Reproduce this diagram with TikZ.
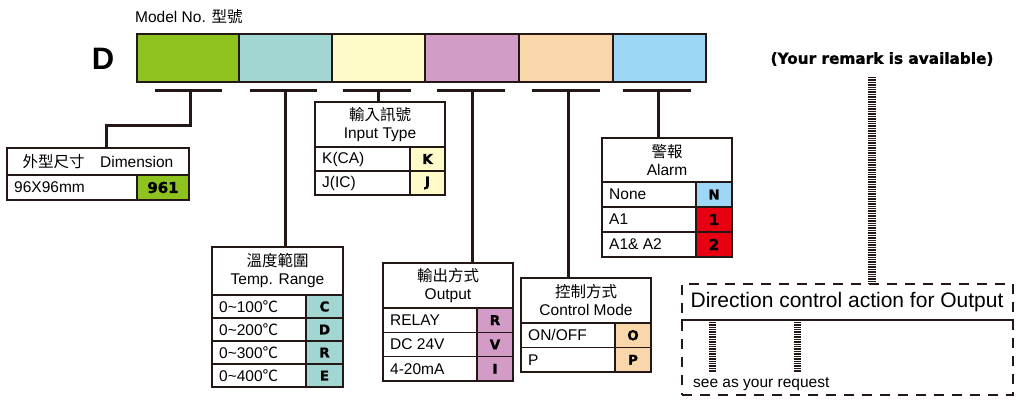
\documentclass[tikz,border=0pt]{standalone}
\usepackage{fontspec}
\setmainfont{Liberation Sans}
\newfontfamily\cjk{Noto Sans CJK TC}
\newfontfamily\heavy{DejaVu Sans}[FakeBold=1.2]
\usetikzlibrary{calc}
\definecolor{ink}{HTML}{231815}
\definecolor{cgreen}{HTML}{8DC21F}
\definecolor{cteal}{HTML}{A2D6D3}
\definecolor{cyellow}{HTML}{FFFBC8}
\definecolor{cpurple}{HTML}{D39CC7}
\definecolor{corange}{HTML}{F9D7AB}
\definecolor{cblue}{HTML}{9ED7F5}
\definecolor{cred}{HTML}{E60012}
\newcommand\txt{\fontsize{15.5}{18}\selectfont}
\newcommand\codefont{\heavy\bfseries\fontsize{13.5}{14}\selectfont}
\newcommand\numfont{\heavy\bfseries\fontsize{15}{16}\selectfont}
\tikzset{
  barcell/.style={draw=ink, line width=2.5pt, anchor=north west, minimum height=48pt, inner sep=0pt, outer sep=0pt},
  tbox/.style={draw=ink, line width=1.2pt, anchor=north west, inner sep=0pt, outer sep=0pt, align=center, font=\txt},
  lcell/.style={draw=ink, line width=1.2pt, anchor=north west, inner sep=0pt, outer sep=0pt},
  ccell/.style={draw=ink, line width=1.2pt, anchor=north west, inner sep=0pt, outer sep=0pt, font=\codefont},
  tbar/.style={draw=ink, line width=3pt},
  stripe/.style={draw=ink, line width=8pt, dash pattern=on 0.9pt off 0.8pt},
}
\newcommand\trow[9]{%
  \node[lcell, minimum width=#4pt, minimum height=#6pt] (#1) at (#2,#3) {};
  \node[anchor=west, inner sep=0pt, font=\txt] (#1t) at ([xshift=7pt]#1.west) {#7};
  \node[ccell, fill=#9, minimum width=#5pt, minimum height=#6pt] (#1c) at (#1.north east) {#8};
}
\begin{document}
\begin{tikzpicture}[x=1pt,y=-1pt]
\useasboundingbox[fill=white] (0,0) rectangle (1016,403);

% header
\node[font=\txt, anchor=west, inner sep=0pt] (model) at (135,16.5) {Model No. {\cjk 型號}};
\node[font=\bfseries\fontsize{31}{31}\selectfont, inner sep=0pt] (dlab) at (103,58.5) {D};

% model bar
\node[barcell, fill=cgreen,  minimum width=102pt] (b1) at (137,34) {};
\node[barcell, fill=cteal,   minimum width=93pt]  (b2) at (239,34) {};
\node[barcell, fill=cyellow, minimum width=93pt]  (b3) at (332,34) {};
\node[barcell, fill=cpurple, minimum width=94pt]  (b4) at (425,34) {};
\node[barcell, fill=corange, minimum width=94pt]  (b5) at (519,34) {};
\node[barcell, fill=cblue,   minimum width=93pt]  (b6) at (613,34) {};

% T bars
\coordinate (t1l) at (155,91); \coordinate (t1r) at (222,91); \coordinate (t1m) at (190,91);
\coordinate (t2l) at (250,91); \coordinate (t2r) at (317,91); \coordinate (t2m) at (285,91);
\coordinate (t3l) at (343,91); \coordinate (t3r) at (411,91); \coordinate (t3m) at (378,91);
\coordinate (t4l) at (437,91); \coordinate (t4r) at (505,91); \coordinate (t4m) at (472,91);
\coordinate (t5l) at (532,91); \coordinate (t5r) at (600,91); \coordinate (t5m) at (568,91);
\coordinate (t6l) at (623,91); \coordinate (t6r) at (691,91); \coordinate (t6m) at (658,91);
\foreach \i in {1,...,6} { \draw[tbar] (t\i l) -- (t\i r); }

% Dimension
\node[tbox, minimum width=182pt, minimum height=27pt] (dimT) at (7,148) {{\cjk 外型尺寸}\quad Dimension};
\trow{dimA}{7}{175}{130}{52}{25}{96X96mm}{\numfont 961}{cgreen}

% Input Type
\node[tbox, minimum width=130pt, minimum height=45pt] (inT) at (315,102) {{\cjk 輸入訊號}\\Input Type};
\trow{inA}{315}{147}{95}{35}{24}{K(CA)}{K}{cyellow}
\trow{inB}{315}{171}{95}{35}{24}{J(IC)}{J}{cyellow}

% Temp Range
\node[tbox, minimum width=131pt, minimum height=48pt] (tpT) at (212,247) {{\cjk 溫度範圍}\\Temp. Range};
\trow{tpA}{212}{295}{94}{37}{23}{0\char`~100{\cjk ℃}}{C}{cteal}
\trow{tpB}{212}{318}{94}{37}{23}{0\char`~200{\cjk ℃}}{D}{cteal}
\trow{tpC}{212}{341}{94}{37}{23}{0\char`~300{\cjk ℃}}{R}{cteal}
\trow{tpD}{212}{364}{94}{37}{23}{0\char`~400{\cjk ℃}}{E}{cteal}

% Output
\node[tbox, minimum width=130pt, minimum height=45pt] (ouT) at (383,263) {{\cjk 輸出方式}\\Output};
\trow{ouA}{383}{308}{94}{36}{24.3}{RELAY}{R}{cpurple}
\trow{ouB}{383}{332.3}{94}{36}{24.3}{DC 24V}{V}{cpurple}
\trow{ouC}{383}{356.6}{94}{36}{24.3}{4-20mA}{I}{cpurple}

% Control Mode
\node[tbox, minimum width=130pt, minimum height=45pt] (coT) at (521,278) {{\cjk 控制方式}\\Control Mode};
\trow{coA}{521}{323}{94}{36}{24.5}{ON/OFF}{O}{corange}
\trow{coB}{521}{347.5}{94}{36}{24.5}{P}{P}{corange}

% Alarm
\node[tbox, minimum width=130pt, minimum height=44pt] (alT) at (602,138) {{\cjk 警報}\\Alarm};
\trow{alA}{602}{182}{94}{36}{25}{None}{N}{cblue}
\trow{alB}{602}{207}{94}{36}{25}{A1}{\numfont 1}{cred}
\trow{alC}{602}{232}{94}{36}{25}{A1\& A2}{\numfont 2}{cred}

% stems
\draw[tbar] (t1m) -- ++(0,35) -| ([xshift=8pt]dimT.north);
\draw[tbar] (t2m) -- (t2m |- tpT.north);
\draw[tbar] (t3m) -- (t3m |- inT.north);
\draw[tbar] (t4m) -- (t4m |- ouT.north);
\draw[tbar] (t5m) -- (t5m |- coT.north);
\draw[tbar] (t6m) -- (t6m |- alT.north);

% remark area
\node[font=\heavy\bfseries\fontsize{15.3}{15}\selectfont, inner sep=0pt] (remark) at (882,59) {(Your remark is available)};
\node[draw=ink, line width=2.5pt, dash pattern=on 10pt off 8pt, minimum width=331pt, minimum height=111pt, anchor=north west, inner sep=0pt, outer sep=0pt] (dirbox) at (682,284) {};
\coordinate (s0) at (872,77);
\draw[stripe] (s0) -- (s0 |- dirbox.north);
\node[font=\fontsize{21}{21}\selectfont, inner sep=0pt] (dir) at (847,302) {Direction control action for Output};
\coordinate (dl) at (682,320); \coordinate (dr) at (1013,320);
\draw[ink, line width=2pt] ([yshift=-5pt]dl) -- (dl) -- (dr) -- ([yshift=-5pt]dr);
\coordinate (s1a) at (712,322); \coordinate (s1b) at (712,372);
\coordinate (s2a) at (797,322); \coordinate (s2b) at (797,372);
\draw[stripe, line width=7pt] (s1a) -- (s1b);
\draw[stripe, line width=7pt] (s2a) -- (s2b);
\node[font=\txt, anchor=west, inner sep=0pt] (req) at (693,384) {see as your request};
\end{tikzpicture}
\end{document}
